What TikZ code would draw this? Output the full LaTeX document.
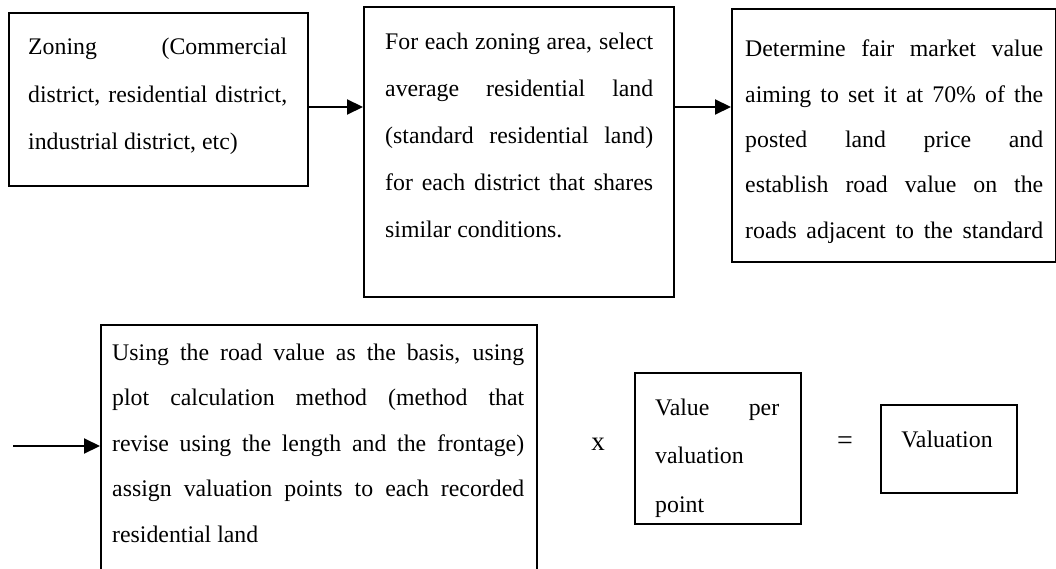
\documentclass[tikz,border=0pt]{standalone}
\usepackage{fontspec}
\setmainfont{Liberation Serif}
\usetikzlibrary{arrows.meta}

% one justified line: every interword space gets the same extra stretch
\newcommand\jl[1]{\hbox to \linewidth{\spaceskip=0.25em plus 1fil\xspaceskip=0.25em plus 1fil\relax #1}}
% a plain (last) line at natural width
\newcommand\nl[1]{\hbox{#1}}
% a block of lines: width, baseline distance, lines
\newcommand\blk[3]{\parbox[t]{#1}{\setlength\baselineskip{#2}#3}}

\begin{document}
\begin{tikzpicture}[x=1pt,y=-1pt,
  box/.style={draw, line width=2.1pt, inner sep=0pt, anchor=north west},
  txt/.style={inner sep=0pt, anchor=base west, font=\fontsize{23.8}{30}\selectfont},
  arr/.style={line width=2.1pt, -{Triangle[length=16pt,width=15pt]}}
]
\useasboundingbox (0,0) rectangle (1056,569);
\clip (0,0) rectangle (1056,569);

% frames
\node[box, minimum width=299pt, minimum height=173pt] (b1) at (8,12) {};
\node[box, minimum width=310pt, minimum height=290pt] (b2) at (363,6) {};
\node[box, minimum width=324pt, minimum height=253pt] (b3) at (731,8) {};
\node[box, minimum width=436pt, minimum height=280pt] (b4) at (100,324) {};
\node[box, minimum width=166pt, minimum height=151pt] (b5) at (634,372) {};
\node[box, minimum width=136pt, minimum height=88pt] (b6) at (880,404) {};

% texts
\node[txt] (t1) at (28,55) {\blk{259pt}{47.5pt}{%
  \jl{Zoning (Commercial}
  \jl{district, residential district,}
  \nl{industrial district, etc)}}};
\node[txt] (t2) at (385,50) {\blk{268pt}{47pt}{%
  \jl{For each zoning area, select}
  \jl{average residential land}
  \jl{(standard residential land)}
  \jl{for each district that shares}
  \nl{similar conditions.}}};
\node[txt] (t3) at (745,57) {\blk{298pt}{45.3pt}{%
  \jl{Determine fair market value}
  \jl{aiming to set it at 70\% of the}
  \jl{posted land price and}
  \jl{establish road value on the}
  \jl{roads adjacent to the standard}}};
\node[txt] (t4) at (112,360) {\blk{412pt}{45.5pt}{%
  \jl{Using the road value as the basis, using}
  \jl{plot calculation method (method that}
  \jl{revise using the length and the frontage)}
  \jl{assign valuation points to each recorded}
  \nl{residential land}}};
\node[txt] (t5) at (655,415) {\blk{124pt}{48.5pt}{%
  \jl{Value per}
  \nl{valuation}
  \nl{point}}};
\node[txt, anchor=base] (t6) at (947,447) {Valuation};

% operators
\node[txt, anchor=center, font=\fontsize{27}{30}\selectfont] (times) at (598,444) {x};
\node[txt, anchor=center, font=\fontsize{28}{30}\selectfont] (eq) at (845,443) {=};

% connectors
\coordinate (start) at (13,446);
\draw[arr] (b1.east |- 0,107) -- (b2.west |- 0,107);
\draw[arr] (b2.east |- 0,107) -- (b3.west |- 0,107);
\draw[arr] (start) -- (b4.west |- start);
\end{tikzpicture}
\end{document}
